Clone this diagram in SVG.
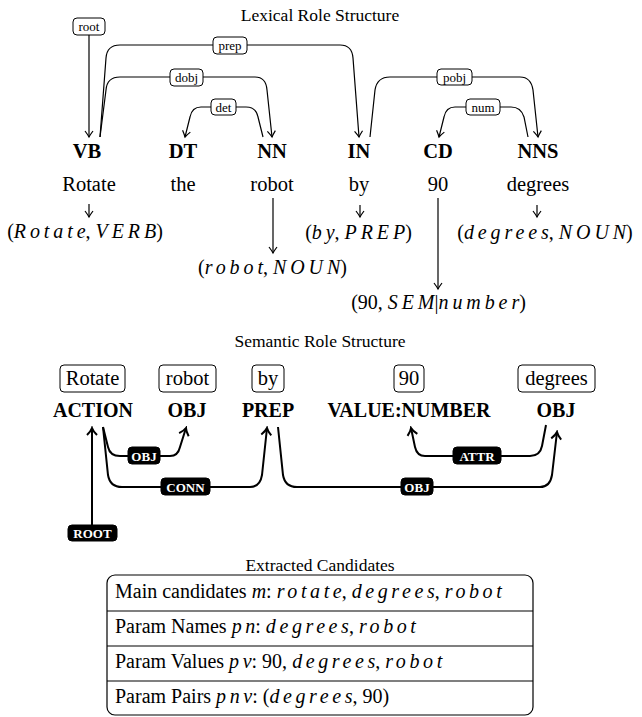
<svg xmlns="http://www.w3.org/2000/svg" width="642" height="717" viewBox="0 0 642 717">
<defs>
<style>
text{font-family:"Liberation Serif","Times New Roman",serif;fill:#000}
.title{font-size:17.5px;text-anchor:middle}
.pos{font-size:20.5px;font-weight:bold;text-anchor:middle}
.word{font-size:20.5px;text-anchor:middle}
.tup{font-size:20px;text-anchor:middle}
.m{font-style:italic;letter-spacing:3.9px}
.mr{font-style:italic;letter-spacing:3.6px}
.mi{font-style:italic;letter-spacing:0}
.lbl{font-size:13px;text-anchor:middle}
.lbox{fill:#fff;stroke:#000;stroke-width:1}
.ledge{fill:none;stroke:#000;stroke-width:1.2}
.sedge{fill:none;stroke:#000;stroke-width:2}
.sbox{fill:#fff;stroke:#000;stroke-width:1}
.sword{font-size:20.5px;text-anchor:middle}
.role{font-size:20px;font-weight:bold;text-anchor:middle}
.blk{fill:#000;stroke:#000}
.blbl{font-size:13px;font-weight:bold;fill:#fff;text-anchor:middle}
.row{font-size:20px}
.tbl{fill:none;stroke:#000;stroke-width:1.2}
</style>
<marker id="ah" viewBox="-8 -5 10 10" refX="0" refY="0" markerWidth="10" markerHeight="10" markerUnits="userSpaceOnUse" orient="auto">
<path d="M-6,-4 Q-2,-1 0,0 Q-2,1 -6,4" fill="none" stroke="#000" stroke-width="1.2"/>
</marker>
<marker id="ahs" viewBox="-9 -6 11 12" refX="0" refY="0" markerWidth="11" markerHeight="12" markerUnits="userSpaceOnUse" orient="auto">
<path d="M-7,-5 Q-3,-1 0,0 Q-3,1 -7,5" fill="none" stroke="#000" stroke-width="2"/>
</marker>
</defs>
<rect width="642" height="717" fill="#fff"/>

<text class="title" x="320" y="21">Lexical Role Structure</text>

<g id="lex-connectors">
<path class="ledge" d="M89,35 L89,137" marker-end="url(#ah)"/>
<path class="ledge" d="M100,137 L106,58 Q107,45 120,45 L340,45 Q352,45 353,58 L359,137" marker-end="url(#ah)"/>
<path class="ledge" d="M100,137 L106,90 Q107,77 120,77 L255,77 Q266,77 267,90 L272,137" marker-end="url(#ah)"/>
<path class="ledge" d="M263,137 L258,117 Q256,107 246,107 L201,107 Q192,107 190,117 L185,137" marker-end="url(#ah)"/>
<path class="ledge" d="M370,137 L375,90 Q377,77 390,77 L520,77 Q531,77 533,90 L538,137" marker-end="url(#ah)"/>
<path class="ledge" d="M528,137 L524,117 Q521,107 511,107 L455,107 Q446,107 444,117 L439,137" marker-end="url(#ah)"/>
<path class="ledge" d="M89,204 L89,217" marker-end="url(#ah)"/>
<path class="ledge" d="M360,205 L360,217" marker-end="url(#ah)"/>
<path class="ledge" d="M537,205 L537,217" marker-end="url(#ah)"/>
<path class="ledge" d="M273,198 L273,253" marker-end="url(#ah)"/>
<path class="ledge" d="M438,198 L438,289" marker-end="url(#ah)"/>
<g id="lex-labels">
<rect class="lbox" x="73" y="18" width="32" height="17" rx="4"/><text class="lbl" x="89" y="31">root</text>
<rect class="lbox" x="213" y="37" width="34" height="17" rx="4"/><text class="lbl" x="230" y="50">prep</text>
<rect class="lbox" x="170" y="69" width="33" height="17" rx="4"/><text class="lbl" x="186.5" y="82">dobj</text>
<rect class="lbox" x="211" y="99" width="25" height="16" rx="4"/><text class="lbl" x="223.5" y="111.5">det</text>
<rect class="lbox" x="437" y="69" width="35" height="16" rx="4"/><text class="lbl" x="454.5" y="81.5">pobj</text>
<rect class="lbox" x="466" y="99" width="34" height="16" rx="4"/><text class="lbl" x="483" y="111.5">num</text>
</g>
</g>

<g id="lex-VB"><text class="pos" x="87" y="158">VB</text><text class="word" x="89" y="191">Rotate</text><text class="tup" x="85" y="238">(<tspan class="m">Rotat</tspan><tspan class="mi">e</tspan>, <tspan class="m">VER</tspan><tspan class="mi">B</tspan>)</text></g>
<g id="lex-DT"><text class="pos" x="183" y="158">DT</text><text class="word" x="183" y="191">the</text></g>
<g id="lex-NN"><text class="pos" x="272" y="158">NN</text><text class="word" x="272" y="191">robot</text><text class="tup" x="272.5" y="274">(<tspan class="m">robo</tspan><tspan class="mi">t</tspan>, <tspan class="m">NOU</tspan><tspan class="mi">N</tspan>)</text></g>
<g id="lex-IN"><text class="pos" x="359" y="158">IN</text><text class="word" x="359" y="191">by</text><text class="tup" x="358.5" y="239">(<tspan class="m">b</tspan><tspan class="mi">y</tspan>, <tspan class="m">PRE</tspan><tspan class="mi">P</tspan>)</text></g>
<g id="lex-CD"><text class="pos" x="438" y="158">CD</text><text class="word" x="438" y="191">90</text><text class="tup" x="438.5" y="309">(90, <tspan class="m">SE</tspan><tspan class="mi">M</tspan>|<tspan class="m">numbe</tspan><tspan class="mi">r</tspan>)</text></g>
<g id="lex-NNS"><text class="pos" x="538" y="158">NNS</text><text class="word" x="538" y="191">degrees</text><text class="tup" x="545" y="239">(<tspan class="m">degree</tspan><tspan class="mi">s</tspan>, <tspan class="m">NOU</tspan><tspan class="mi">N</tspan>)</text></g>

<text class="title" x="320" y="347">Semantic Role Structure</text>

<g id="sem-connectors">
<path class="sedge" d="M92,525 L92,428" marker-end="url(#ahs)"/>
<path class="sedge" d="M103,427 L108,447 Q110,456 120,456 L170,456 Q178,456 180,447 L186,428" marker-end="url(#ahs)"/>
<path class="sedge" d="M103,427 L108,475 Q110,487 122,487 L250,487 Q260,487 262,475 L267,428" marker-end="url(#ahs)"/>
<path class="sedge" d="M278,427 L283,475 Q285,487 297,487 L540,487 Q550,487 552,475 L557,432" marker-end="url(#ahs)"/>
<path class="sedge" d="M546,425 L542,446 Q540,456 530,456 L425,456 Q417,456 415,447 L411,428" marker-end="url(#ahs)"/>
<g id="sem-labels">
<rect class="blk" x="68" y="525" width="49" height="16" rx="4"/><text class="blbl" x="92.5" y="538">ROOT</text>
<rect class="blk" x="128" y="447" width="32" height="17" rx="4"/><text class="blbl" x="144" y="460.5">OBJ</text>
<rect class="blk" x="161" y="478" width="49" height="17" rx="4"/><text class="blbl" x="185.5" y="491.5">CONN</text>
<rect class="blk" x="401" y="478" width="32" height="17" rx="4"/><text class="blbl" x="417" y="491.5">OBJ</text>
<rect class="blk" x="453" y="447" width="48" height="17" rx="4"/><text class="blbl" x="477" y="460.5">ATTR</text>
</g>
</g>

<g id="sem-ACTION"><rect class="sbox" x="60" y="365" width="65" height="27" rx="4"/><text class="sword" x="92.5" y="384.5">Rotate</text><text class="role" x="93" y="417">ACTION</text></g>
<g id="sem-OBJ1"><rect class="sbox" x="159" y="365" width="57" height="27" rx="4"/><text class="sword" x="187.5" y="384.5">robot</text><text class="role" x="187" y="417">OBJ</text></g>
<g id="sem-PREP"><rect class="sbox" x="252" y="365" width="32" height="27" rx="4"/><text class="sword" x="268" y="384.5">by</text><text class="role" x="268" y="417">PREP</text></g>
<g id="sem-VALUE"><rect class="sbox" x="394" y="365" width="30" height="27" rx="4"/><text class="sword" x="409" y="384.5">90</text><text class="role" x="409" y="417">VALUE:NUMBER</text></g>
<g id="sem-OBJ2"><rect class="sbox" x="518" y="365" width="77" height="27" rx="4"/><text class="sword" x="556.5" y="384.5">degrees</text><text class="role" x="556" y="417">OBJ</text></g>

<text class="title" x="320" y="571">Extracted Candidates</text>
<g id="candidates">
<rect class="tbl" x="107" y="575" width="426" height="140" rx="8"/>
<line class="tbl" x1="107" y1="611" x2="533" y2="611"/>
<line class="tbl" x1="107" y1="646" x2="533" y2="646"/>
<line class="tbl" x1="107" y1="681" x2="533" y2="681"/>
<text class="row" x="115" y="598">Main candidates <tspan class="mi">m</tspan>: <tspan class="mr">rotat</tspan><tspan class="mi">e</tspan>, <tspan class="mr">degree</tspan><tspan class="mi">s</tspan>, <tspan class="mr">robo</tspan><tspan class="mi">t</tspan></text>
<text class="row" x="115" y="633">Param Names <tspan class="mr">p</tspan><tspan class="mi">n</tspan>: <tspan class="mr">degree</tspan><tspan class="mi">s</tspan>, <tspan class="mr">robo</tspan><tspan class="mi">t</tspan></text>
<text class="row" x="115" y="668">Param Values <tspan class="mr">p</tspan><tspan class="mi">v</tspan>: 90, <tspan class="mr">degree</tspan><tspan class="mi">s</tspan>, <tspan class="mr">robo</tspan><tspan class="mi">t</tspan></text>
<text class="row" x="115" y="703">Param Pairs <tspan class="mr">pn</tspan><tspan class="mi">v</tspan>: (<tspan class="mr">degree</tspan><tspan class="mi">s</tspan>, 90)</text>
</g>
</svg>
